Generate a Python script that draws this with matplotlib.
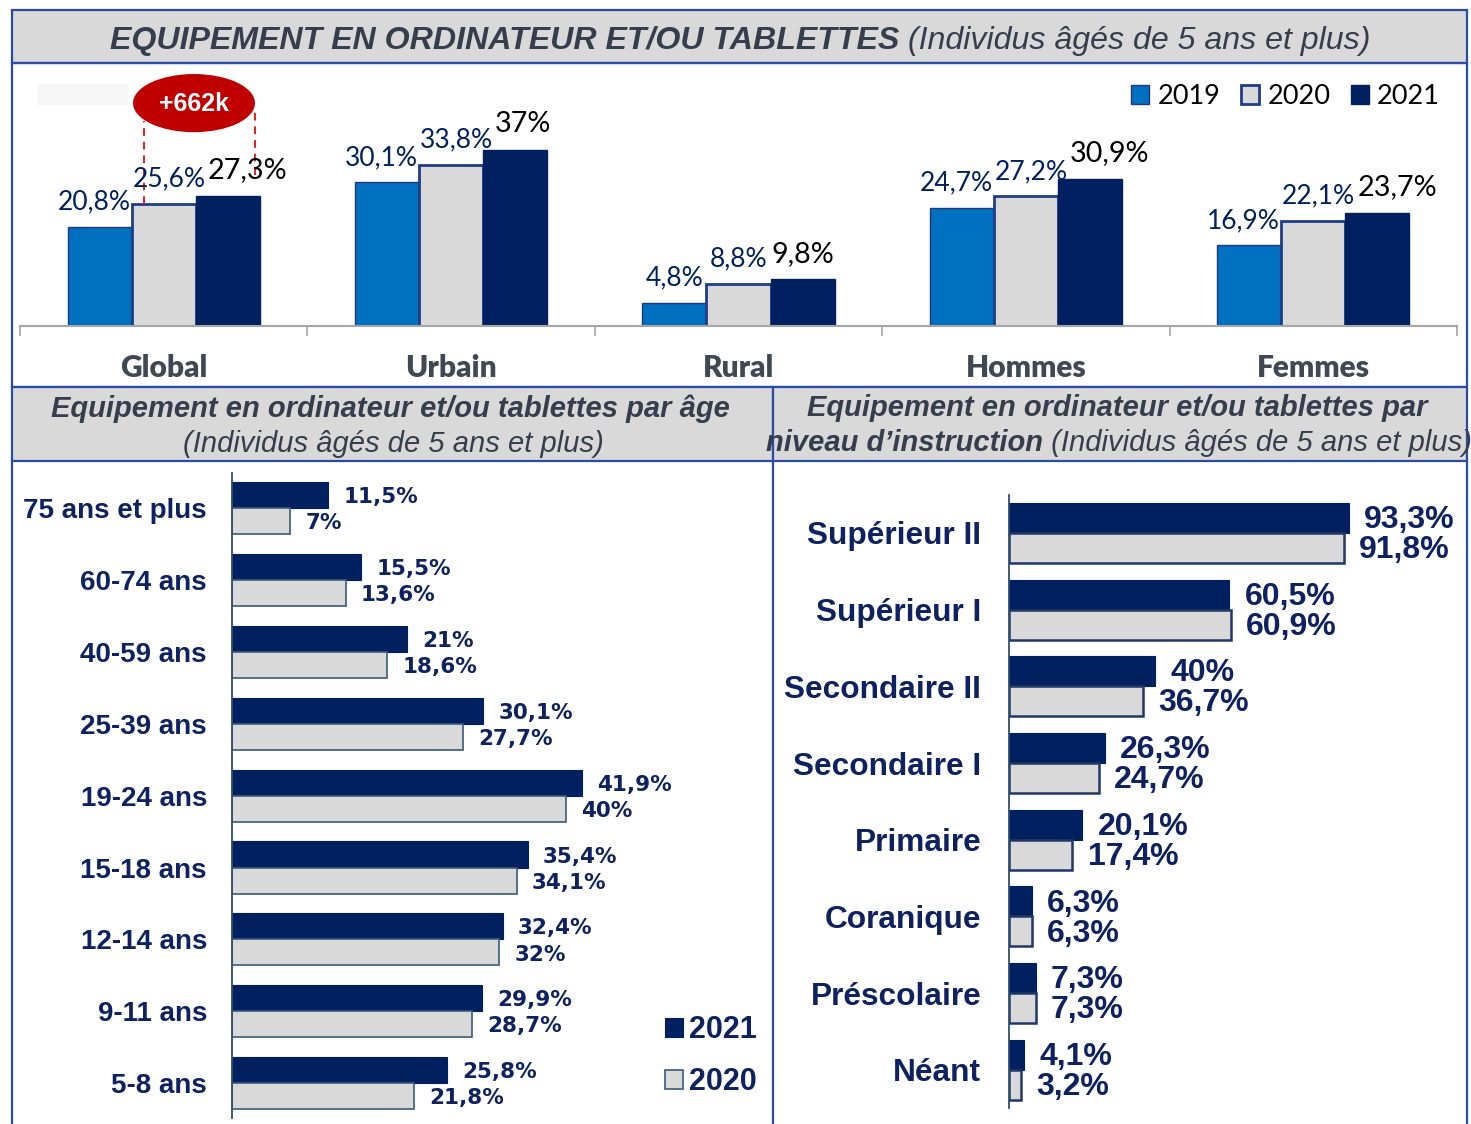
import matplotlib
matplotlib.use('Agg')
import matplotlib.pyplot as plt
from matplotlib.patches import Rectangle, Ellipse
import numpy as np

# ---------------- data ----------------
top_categories = ['Global', 'Urbain', 'Rural', 'Hommes', 'Femmes']
top_years = ['2019', '2020', '2021']
top_2019 = [20.8, 30.1, 4.8, 24.7, 16.9]
top_2020 = [25.6, 33.8, 8.8, 27.2, 22.1]
top_2021 = [27.3, 37.0, 9.8, 30.9, 23.7]
global_delta_label = '+662k'

age_categories = ['75 ans et plus', '60-74 ans', '40-59 ans', '25-39 ans', '19-24 ans',
                  '15-18 ans', '12-14 ans', '9-11 ans', '5-8 ans']
age_2021 = [11.5, 15.5, 21.0, 30.1, 41.9, 35.4, 32.4, 29.9, 25.8]
age_2020 = [7.0, 13.6, 18.6, 27.7, 40.0, 34.1, 32.0, 28.7, 21.8]

edu_categories = ['Supérieur II', 'Supérieur I', 'Secondaire II', 'Secondaire I',
                  'Primaire', 'Coranique', 'Préscolaire', 'Néant']
edu_2021 = [93.3, 60.5, 40.0, 26.3, 20.1, 6.3, 7.3, 4.1]
edu_2020 = [91.8, 60.9, 36.7, 24.7, 17.4, 6.3, 7.3, 3.2]

title_main = 'EQUIPEMENT EN ORDINATEUR ET/OU TABLETTES'
title_sub = ' (Individus âgés de 5 ans et plus)'
age_title = 'Equipement en ordinateur et/ou tablettes par âge'
age_sub = '(Individus âgés de 5 ans et plus)'
edu_title1 = 'Equipement en ordinateur et/ou tablettes par'
edu_title2 = 'niveau d\u2019instruction'

# ---------------- style ----------------
W, H, DPI = 1471, 1124, 100
plt.rcParams['font.family'] = ['Liberation Sans', 'DejaVu Sans']
C2019 = '#0070C0'
C2020 = '#D9D9D9'
C2021 = '#002060'
NAVY_TXT = '#0E2160'
HEAD_TXT = '#363E4D'
BORDER = '#2B4BA5'
GREY_BOX = '#D9D9D9'
TOPFONT = ['Lato', 'DejaVu Sans']


def fmt(v):
    s = f'{v:.1f}'
    if s.endswith('.0'):
        s = s[:-2]
    return s.replace('.', ',') + '%'


fig = plt.figure(figsize=(W / DPI, H / DPI), dpi=DPI)
fig.patch.set_facecolor('white')


def px_axes(x0, y0, x1, y1, z=2):
    a = fig.add_axes([x0 / W, 1 - y1 / H, (x1 - x0) / W, (y1 - y0) / H], zorder=z)
    a.set_facecolor('none')
    return a


# background / frame axes in pixel coordinates
bg = fig.add_axes([0, 0, 1, 1], zorder=0)
bg.set_xlim(0, W)
bg.set_ylim(H, 0)
bg.axis('off')

lw_b = 1.6
bg.add_patch(Rectangle((12, 10), 1455, 53, fc=GREY_BOX, ec=BORDER, lw=lw_b))
bg.add_patch(Rectangle((12, 63), 1455, 324, fc='none', ec=BORDER, lw=lw_b))
bg.add_patch(Rectangle((12, 387), 761, 74, fc=GREY_BOX, ec=BORDER, lw=lw_b))
bg.add_patch(Rectangle((773, 387), 694, 74, fc=GREY_BOX, ec=BORDER, lw=lw_b))
for xx in (12, 773, 1467):
    bg.plot([xx, xx], [461, H], color=BORDER, lw=lw_b)
bg.add_patch(Rectangle((38, 84), 90, 21, fc='#F6F6F6', ec='none'))

renderer = fig.canvas.get_renderer()


def mixed_line(parts, cx, yb, size, color=HEAD_TXT):
    texts, widths = [], []
    for s, wgt in parts:
        t = bg.text(0, yb, s, fontsize=size, fontweight=wgt, fontstyle='italic',
                    color=color, ha='left', va='baseline', zorder=5)
        widths.append(t.get_window_extent(renderer).width)
        texts.append(t)
    x = cx - sum(widths) / 2
    for t, w in zip(texts, widths):
        t.set_x(x)
        x += w


mixed_line([(title_main, 'bold'), (title_sub, 'normal')], 740, 49, 23.1)
mixed_line([(age_title, 'bold')], 390, 417, 21)
mixed_line([(age_sub, 'normal')], 393, 452, 21)
mixed_line([(edu_title1, 'bold')], 1117, 416, 21)
mixed_line([(edu_title2, 'bold'), (' ' + age_sub, 'normal')], 1119, 451, 21)

# ---------------- top chart ----------------
ax = px_axes(20, 90, 1457, 326)
x = np.arange(len(top_categories))
bw = 0.223
b19 = ax.bar(x - bw, top_2019, bw, color=C2019, edgecolor='#1F3A7A', lw=1.0, label=top_years[0])
b20 = ax.bar(x, top_2020, bw, color=C2020, edgecolor='#1F3C88', lw=2.0, label=top_years[1])
b21 = ax.bar(x + bw, top_2021, bw, color=C2021, edgecolor=C2021, lw=1.0, label=top_years[2])
ax.set_xlim(-0.5, len(top_categories) - 0.5)
ax.set_ylim(0, 49.5)
for s in ('top', 'right', 'left'):
    ax.spines[s].set_visible(False)
ax.spines['bottom'].set_color('#A6A6A6')
ax.spines['bottom'].set_linewidth(1.5)
ax.set_yticks([])
ax.set_xticks(x)
ax.set_xticklabels(top_categories, fontsize=21.5, fontweight='heavy', color='#404854',
                   family=TOPFONT)
ax.tick_params(axis='x', which='major', length=0, pad=20)
ax.set_xticks(np.arange(-0.5, len(top_categories)), minor=True)
ax.tick_params(axis='x', which='minor', length=7, width=1.2, color='#A6A6A6')

labels_by_year = []
for bars, vals, col, fs in ((b19, top_2019, C2021, 19), (b20, top_2020, C2021, 19),
                            (b21, top_2021, 'black', 20.7)):
    row = []
    for r, v in zip(bars, vals):
        a = ax.annotate(fmt(v), (r.get_x() + r.get_width() / 2, v), xytext=(0, 9),
                        textcoords='offset points', ha='center', va='bottom',
                        fontsize=fs, color=col, family=TOPFONT, zorder=6)
        row.append(a)
    labels_by_year.append(row)


# nudge neighbouring labels apart when they collide
def overlap_x(a, b):
    ea = a.get_window_extent(renderer)
    eb = b.get_window_extent(renderer)
    if ea.y1 <= eb.y0 or eb.y1 <= ea.y0:
        return 0.0
    return max(0.0, ea.x1 - eb.x0)


PX2PT = 72.0 / DPI
for i in range(len(top_categories)):
    l19, l20, l21 = (labels_by_year[k][i] for k in range(3))
    ov = overlap_x(l20, l21)
    if ov > 0:
        l21.xyann = (l21.xyann[0] + (ov + 2) * PX2PT, l21.xyann[1])
    ov = overlap_x(l19, l20)
    if ov > 0:
        half = (ov + 2) / 2 * PX2PT
        l19.xyann = (l19.xyann[0] - half, l19.xyann[1])
        l20.xyann = (l20.xyann[0] + half, l20.xyann[1])
        ov2 = overlap_x(l20, l21)
        if ov2 > 0:
            l21.xyann = (l21.xyann[0] + (ov2 + 2) * PX2PT, l21.xyann[1])

leg = ax.legend(handles=[b19, b20, b21], ncol=3, loc='upper right',
                bbox_to_anchor=(1440 / W, 1 - 84 / H), bbox_transform=fig.transFigure,
                frameon=False, handlelength=0.68, handleheight=0.68, handletextpad=0.3,
                columnspacing=0.75, borderpad=0, borderaxespad=0,
                prop={'family': TOPFONT, 'size': 19.5})

# +662k bubble on the Global group
ex = x[0] + 0.1054
ey = 46.75
ax.add_patch(Ellipse((ex, ey), 0.4245, 12.2, fc='#C00000', ec='none', clip_on=False, zorder=7))
ax.text(ex, ey - 0.2, global_delta_label, ha='center', va='center', color='white',
        fontsize=18, fontweight='bold', zorder=8, clip_on=False)
ax.plot([x[0] - 0.069, x[0] - 0.069], [top_2020[0], 43.0], color='#E02020', lw=1.4,
        ls=(0, (4, 3)), clip_on=False, zorder=5)
ax.plot([x[0] + 0.318, x[0] + 0.318], [31.7, 45.2], color='#E02020', lw=1.4,
        ls=(0, (4, 3)), clip_on=False, zorder=5)

# ---------------- age chart ----------------
ax2 = px_axes(232, 473, 772, 1118)
ya = np.arange(len(age_categories))
bh = 0.362
a21 = ax2.barh(ya - bh / 2, age_2021, bh, color=C2021, edgecolor=C2021, lw=0.8, label='2021')
a20 = ax2.barh(ya + bh / 2, age_2020, bh, color=C2020, edgecolor='#3A5A7A', lw=1.2, label='2020')
ax2.set_xlim(0, 540 / 8.35)
ax2.set_ylim(8.484, -0.487)
for s in ('top', 'right', 'bottom'):
    ax2.spines[s].set_visible(False)
ax2.spines['left'].set_color('#2F4F6F')
ax2.spines['left'].set_linewidth(1.3)
ax2.set_xticks([])
ax2.set_yticks(ya)
ax2.set_yticklabels(age_categories, fontsize=20, fontweight='bold', color=NAVY_TXT)
ax2.tick_params(axis='y', length=0, pad=18)
for bars, vals in ((a21, age_2021), (a20, age_2020)):
    for r, v in zip(bars, vals):
        ax2.annotate(fmt(v), (v, r.get_y() + r.get_height() / 2), xytext=(11, -1.5),
                     textcoords='offset points', ha='left', va='center', fontsize=15.5,
                     fontweight='bold', color=NAVY_TXT, family=['DejaVu Sans'])
ax2.legend(handles=[a21, a20], loc='upper left', bbox_to_anchor=(665 / W, 1 - 1015 / H),
           bbox_transform=fig.transFigure, frameon=False, handlelength=0.6,
           handleheight=0.6, handletextpad=0.2, labelspacing=0.72, borderpad=0,
           borderaxespad=0, prop={'size': 22, 'weight': 'bold'}, labelcolor=NAVY_TXT)

# ---------------- education chart ----------------
ax3 = px_axes(1009, 495, 1467, 1108)
ye = np.arange(len(edu_categories))
bh2 = 0.391
e21 = ax3.barh(ye - bh2 / 2, edu_2021, bh2, color=C2021, edgecolor=C2021, lw=0.8)
e20 = ax3.barh(ye + bh2 / 2, edu_2020, bh2, color=C2020, edgecolor='#1F3864', lw=1.8)
ax3.set_xlim(0, 458 / 3.644)
ax3.set_ylim(7.497, -0.495)
for s in ('top', 'right', 'bottom'):
    ax3.spines[s].set_visible(False)
ax3.spines['left'].set_color('#2F4F6F')
ax3.spines['left'].set_linewidth(1.3)
ax3.set_xticks([])
ax3.set_yticks(ye)
ax3.set_yticklabels(edu_categories, fontsize=22.8, fontweight='bold', color=NAVY_TXT)
ax3.tick_params(axis='y', length=0, pad=20)
for bars, vals in ((e21, edu_2021), (e20, edu_2020)):
    for r, v in zip(bars, vals):
        ax3.annotate(fmt(v), (v, r.get_y() + r.get_height() / 2), xytext=(11, -1.5),
                     textcoords='offset points', ha='left', va='center', fontsize=23,
                     fontweight='bold', color=NAVY_TXT)

fig.savefig('out.png', dpi=DPI, facecolor='white')
